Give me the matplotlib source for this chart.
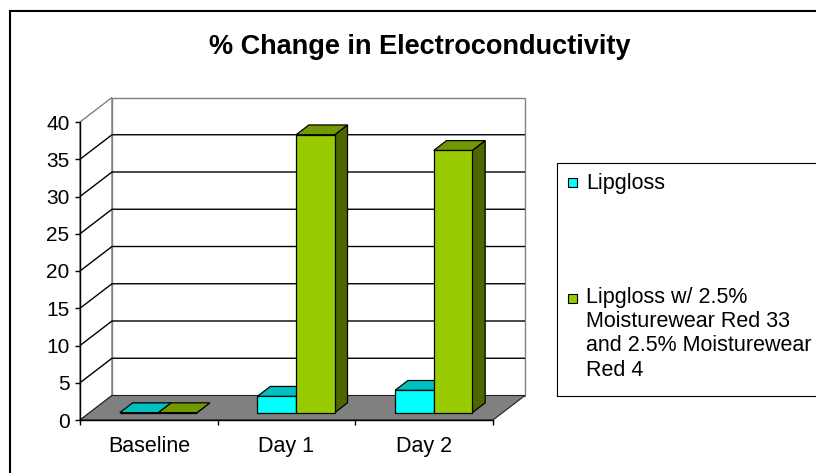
import matplotlib
matplotlib.use("Agg")
import matplotlib.pyplot as plt
from matplotlib.patches import Polygon, Rectangle

plt.rcParams['font.family'] = ['Liberation Sans', 'DejaVu Sans']

# ---------------- data ----------------
categories = ['Baseline', 'Day 1', 'Day 2']
lipgloss = [0.0, 2.2, 3.0]
lipgloss_red = [0.0, 37.3, 35.2]
series_labels = ['Lipgloss',
                 'Lipgloss w/ 2.5%\nMoisturewear Red 33\nand 2.5% Moisturewear\nRed 4']
y_ticks = [0, 5, 10, 15, 20, 25, 30, 35, 40]
title = '% Change in Electroconductivity'

# ---------------- styles ----------------
series_colors = [
    # front, top, side
    ('#00FFFF', '#00C0C0', '#008080'),
    ('#99CC00', '#739900', '#4D6600'),
]

W, H = 816, 473
fig = plt.figure(figsize=(W / 100, H / 100), dpi=100)


def fx(px):
    return px / W


def fy(py):
    return 1 - py / H


# front plane axes
AX_L, AX_R, AX_B, AX_T = 80, 493, 420, 122
ax = fig.add_axes([fx(AX_L), fy(AX_B), (AX_R - AX_L) / W, (AX_B - AX_T) / H])
ax.set_xlim(0, len(categories))
ax.set_ylim(0, 40)
ax.patch.set_visible(False)

# depth (pseudo 3D) offsets in data units
px_per_x = (AX_R - AX_L) / len(categories)
px_per_v = (AX_B - AX_T) / 40
DX = 32 / px_per_x
DV = 24.5 / px_per_v


def P(x, v, d):
    return (x + d * DX, v + d * DV)


def poly(pts, **kw):
    ax.add_patch(Polygon(pts, closed=True, clip_on=False, **kw))


# walls and floor
poly([P(0, 0, 0), P(0, 40, 0), P(0, 40, 1), P(0, 0, 1)], fc='white', ec='#808080', lw=1.0, zorder=0.5)
poly([P(0, 0, 1), P(3, 0, 1), P(3, 40, 1), P(0, 40, 1)], fc='white', ec='#808080', lw=1.0, zorder=0.5)

# gridlines
for v in y_ticks[1:-1]:
    pts = [P(0, v, 0), P(0, v, 1), P(3, v, 1)]
    ax.plot([p[0] for p in pts], [p[1] for p in pts], color='black', lw=1.0,
            clip_on=False, zorder=0.8, solid_capstyle='butt')

poly([P(0, 0, 0), P(3, 0, 0), P(3, 0, 1), P(0, 0, 1)], fc='#808080', ec='#202020', lw=0.8, zorder=1.0)

# bars
BW = 38.6 / px_per_x
F0, F1 = 0.3, 0.7
for i in range(len(categories)):
    for j, vals in enumerate([lipgloss, lipgloss_red]):
        front_c, top_c, side_c = series_colors[j]
        x0 = i + 0.5 - BW + j * BW
        x1 = x0 + BW
        v = vals[i]
        z = 2 + i * 0.1 + j * 0.01
        poly([P(x1, 0, F0), P(x1, 0, F1), P(x1, v, F1), P(x1, v, F0)], fc=side_c, ec='black', lw=0.9, zorder=z)
        poly([P(x0, 0, F0), P(x1, 0, F0), P(x1, v, F0), P(x0, v, F0)], fc=front_c, ec='black', lw=0.9, zorder=z)
        poly([P(x0, v, F0), P(x1, v, F0), P(x1, v, F1), P(x0, v, F1)], fc=top_c, ec='black', lw=0.9, zorder=z)

# axes
for s in ['top', 'right']:
    ax.spines[s].set_visible(False)
for s in ['left', 'bottom']:
    ax.spines[s].set_color('black')
    ax.spines[s].set_linewidth(1.0)
    ax.spines[s].set_zorder(3)
ax.set_yticks(y_ticks)
ax.tick_params(axis='y', direction='out', length=3.6, width=1, pad=4, labelsize=15)
ax.set_xticks(range(len(categories) + 1))
ax.set_xticklabels([])
ax.tick_params(axis='x', which='major', direction='out', length=3.6, width=1)
ax.set_xticks([i + 0.5 for i in range(len(categories))], minor=True)
ax.set_xticklabels(categories, minor=True)
ax.tick_params(axis='x', which='minor', length=0, pad=11.5, labelsize=15.5)

# title
fig.text(fx(420), fy(47), title, ha='center', va='center', fontsize=19.5, fontweight='bold')

# chart frame
fig.patches.append(Rectangle((fx(10), -0.1), 1.0, fy(11) + 0.1, transform=fig.transFigure,
                             fill=False, ec='black', lw=1.5))

# legend
fig.patches.append(Rectangle((fx(557), fy(396)), (840 - 557) / W, (396 - 163) / H,
                             transform=fig.transFigure, fill=False, ec='black', lw=0.8))
leg_y = [182, 298]
for k, lab in enumerate(series_labels):
    cy = leg_y[k]
    fig.patches.append(Rectangle((fx(567.5), fy(cy + 4.5)), 9 / W, 9 / H, transform=fig.transFigure,
                                 fc=series_colors[k][0], ec='black', lw=0.8))
nl = series_labels[1].count('\n')
fig.text(fx(586), fy(183), series_labels[0], ha='left', va='center', fontsize=15.5)
fig.text(fx(586), fy(299 + nl * 23.3 / 2), series_labels[1], ha='left', va='center',
         fontsize=15.5, linespacing=1.19)

fig.savefig('out.png', dpi=100)
